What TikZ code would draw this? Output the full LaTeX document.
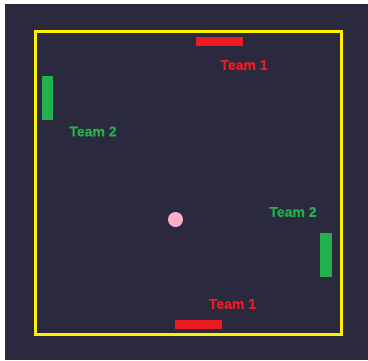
\documentclass[tikz,border=0pt]{standalone}
\usepackage{fontspec}
\setmainfont{Liberation Sans}
\newfontfamily\teamfont{Liberation Sans Bold}[FakeBold=0.8]
\definecolor{courtbg}{RGB}{42,41,62}
\definecolor{courtline}{RGB}{255,242,0}
\definecolor{teamred}{RGB}{237,28,36}
\definecolor{teamgreen}{RGB}{34,177,76}
\definecolor{ballpink}{RGB}{255,174,201}

\begin{document}
\begin{tikzpicture}[x=1pt, y=-1pt,
  paddle/.style={inner sep=0pt, outer sep=0pt},
  redpad/.style={paddle, fill=teamred, minimum width=47pt, minimum height=9pt},
  greenpad/.style={paddle, fill=teamgreen, minimum width=11.5pt, minimum height=44pt},
  team/.style={inner sep=0pt, font=\teamfont\fontsize{14}{16}\selectfont}
]
\useasboundingbox (0,0) rectangle (368,360);
\fill[white] (0,0) rectangle (368,360);
\fill[courtbg] (5,4) rectangle (368,360);

% court
\draw[courtline, line width=3pt] (35.5,31.5) rectangle (341.5,334.5);

% paddles
\node[redpad] (padtop) at (219.5,41.5) {};
\node[redpad] (padbottom) at (198.5,324.5) {};
\node[greenpad] (padleft) at (47.5,98) {};
\node[greenpad] (padright) at (326,255) {};

% ball
\node[circle, fill=ballpink, inner sep=0pt, minimum size=15pt] (ball) at (175.5,219.5) {};

% team labels
\node[team, text=teamred] (labtop) at (244,65) {Team 1};
\node[team, text=teamred] (labbottom) at (232.5,304) {Team 1};
\node[team, text=teamgreen] (lableft) at (93,131.5) {Team 2};
\node[team, text=teamgreen] (labright) at (293,212) {Team 2};
\end{tikzpicture}
\end{document}
